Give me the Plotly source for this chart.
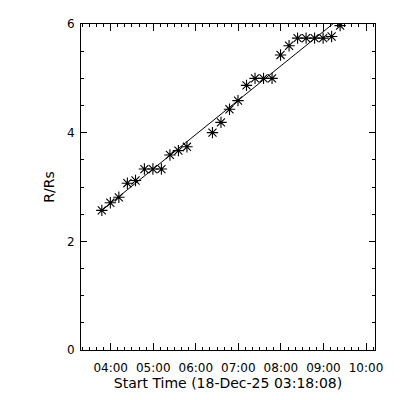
import plotly.graph_objects as go

day = "2025-12-18 "
times = ["03:47:30", "03:59:30", "04:11:30", "04:23:30", "04:35:00", "04:47:30",
         "04:59:30", "05:11:30", "05:23:30", "05:35:30", "05:47:30", "06:23:30",
         "06:35:30", "06:47:30", "06:59:30", "07:11:30", "07:23:30", "07:35:30",
         "07:47:30", "07:59:30", "08:11:30", "08:23:30", "08:35:30", "08:47:30",
         "08:59:30", "09:11:30", "09:23:30"]
heights = [2.57, 2.71, 2.81, 3.07, 3.12, 3.33, 3.33, 3.33, 3.59, 3.67, 3.74, 4.00,
           4.19, 4.43, 4.59, 4.87, 5.00, 5.00, 5.00, 5.43, 5.60, 5.74, 5.74, 5.74,
           5.74, 5.77, 5.97]
fit_times = ["03:47:30", "09:23:30"]
fit_heights = [2.57, 6.11]

x_range = [day + "03:18:08", day + "10:12:40"]
y_range = [0, 6]

font = "DejaVu Sans, Liberation Sans, sans-serif"

fig = go.Figure()
fig.add_trace(go.Scatter(
    x=[day + t for t in fit_times], y=fit_heights, mode="lines",
    line=dict(color="black", width=1), showlegend=False))
fig.add_trace(go.Scatter(
    x=[day + t for t in times], y=heights, mode="markers",
    marker=dict(symbol="asterisk-open", size=9.5, color="black",
                line=dict(color="black", width=1.1)),
    showlegend=False))

# the page body has an 8px margin, so the figure is 392x392 and margins are offset
fig.update_layout(
    width=392, height=392,
    margin=dict(l=73, r=25, t=16, b=50),
    paper_bgcolor="white", plot_bgcolor="white",
    font=dict(family=font, size=12, color="black"),
)
fig.update_xaxes(
    type="date", range=x_range, automargin=False,
    tickformat="%H:%M", dtick=3600000, tick0=day + "00:00:00",
    ticks="inside", ticklen=7, tickwidth=1, tickcolor="black",
    showline=True, linecolor="black", linewidth=1, mirror="allticks",
    showgrid=False, zeroline=False,
    minor=dict(ticks="inside", ticklen=3, dtick=600000, tickcolor="black", showgrid=False),
    tickfont=dict(size=12),
    ticklabelstandoff=7,
    title=dict(text="Start Time (18-Dec-25 03:18:08)", font=dict(size=14), standoff=3),
)
fig.update_yaxes(
    range=y_range, dtick=2, tick0=0, automargin=False,
    ticks="inside", ticklen=6, tickwidth=1, tickcolor="black",
    showline=True, linecolor="black", linewidth=1, mirror="allticks",
    showgrid=False, zeroline=False,
    minor=dict(ticks="inside", ticklen=3, dtick=0.5, tickcolor="black", showgrid=False),
    tickfont=dict(size=12),
    ticklabelstandoff=3,
    title=dict(text="R/Rs", font=dict(size=14), standoff=9),
)

fig.write_html("out.html")
